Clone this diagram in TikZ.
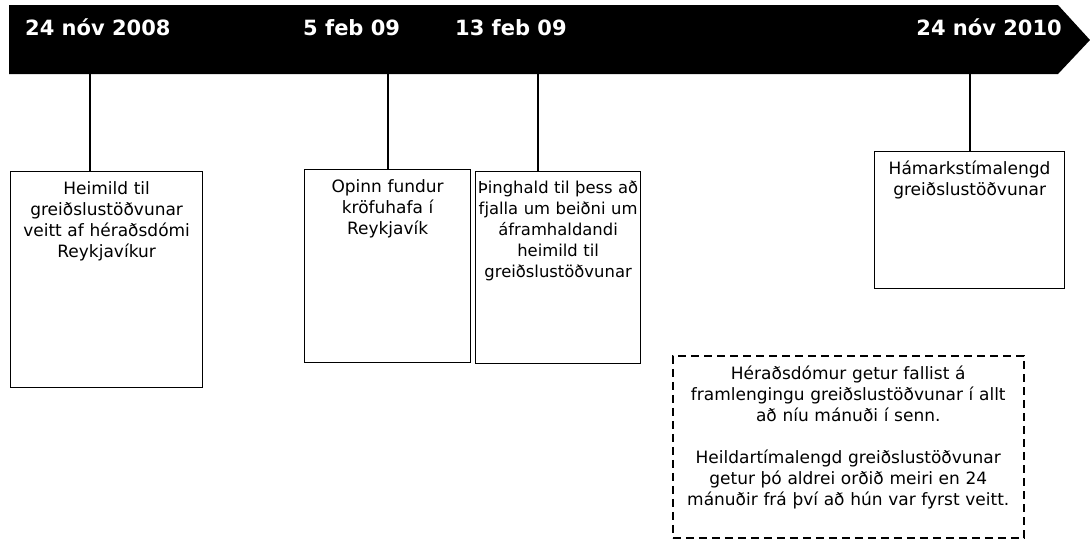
\documentclass[tikz,border=0pt]{standalone}
\usepackage{fontspec}
\setmainfont{DejaVu Sans}
\usetikzlibrary{positioning}

\begin{document}
\begin{tikzpicture}[x=1pt, y=-1pt,
      every node/.style={font=\fontsize{17}{21}\selectfont},
      datelbl/.style={font=\fontsize{21}{25}\selectfont\bfseries, text=white, inner sep=0pt},
      evbox/.style={draw, line width=1.2pt, anchor=north west, inner sep=0pt},
      evtext/.style={anchor=north, align=center, inner sep=0pt},
      stem/.style={line width=1.6pt}
  ]
    \useasboundingbox (0,0) rectangle (1090,547);

    % ---- Timeline bar ----
    \fill (9,5) -- (1058,5) -- (1090,40) -- (1058,74) -- (9,74) -- cycle;
    \node[datelbl, anchor=base west] (d1) at (25,35) {24 nóv 2008};
    \node[datelbl, anchor=base west] (d2) at (303,35) {5 feb 09};
    \node[datelbl, anchor=base west] (d3) at (455,35) {13 feb 09};
    \node[datelbl, anchor=base east] (d4) at (1062,35) {24 nóv 2010};

    % ---- Stem points on the bar ----
    \coordinate (t1) at (90,74);
    \coordinate (t2) at (388,74);
    \coordinate (t3) at (538,74);
    \coordinate (t4) at (970,74);

    % ---- Event boxes ----
    \node[evbox, minimum width=192pt, minimum height=216pt] (b1) at (10,171) {};
    \node[evtext, text width=180pt, below=10pt of b1.north] (e1)
          {Heimild til\\ greiðslustöðvunar\\ veitt af héraðsdómi\\ Reykjavíkur};

    \node[evbox, minimum width=166pt, minimum height=193pt] (b2) at (304,169) {};
    \node[evtext, text width=160pt, below=10pt of b2.north] (e2)
          {Opinn fundur\\ kröfuhafa í\\ Reykjavík};

    \node[evbox, minimum width=165pt, minimum height=192pt] (b3) at (475,171) {};
    \node[evtext, text width=175pt, below=10pt of b3.north,
          font=\fontsize{16.4}{21}\selectfont] (e3)
          {Þinghald til þess að\\ fjalla um beiðni um\\ áframhaldandi\\ heimild til\\ greiðslustöðvunar};

    \node[evbox, minimum width=190pt, minimum height=137pt] (b4) at (874,151) {};
    \node[evtext, text width=180pt, below=10pt of b4.north] (e4)
          {Hámarkstímalengd\\ greiðslustöðvunar};

    % ---- Stems ----
    \draw[stem] (t1) -- (t1 |- b1.north);
    \draw[stem] (t2) -- (t2 |- b2.north);
    \draw[stem] (t3) -- (t3 |- b3.north);
    \draw[stem] (t4) -- (t4 |- b4.north);

    % ---- Note ----
    \node[evbox, dashed, dash pattern=on 8pt off 5pt, line width=1.5pt,
          minimum width=351pt, minimum height=182pt] (note) at (672,355) {};
    \node[evtext, text width=345pt, below=11pt of note.north] (notetxt)
          {Héraðsdómur getur fallist á\\ framlengingu greiðslustöðvunar í allt\\ að níu mánuði í senn.\\[21pt]
           Heildartímalengd greiðslustöðvunar\\ getur þó aldrei orðið meiri en 24\\ mánuðir frá því að hún var fyrst veitt.};

  \end{tikzpicture}
\end{document}
